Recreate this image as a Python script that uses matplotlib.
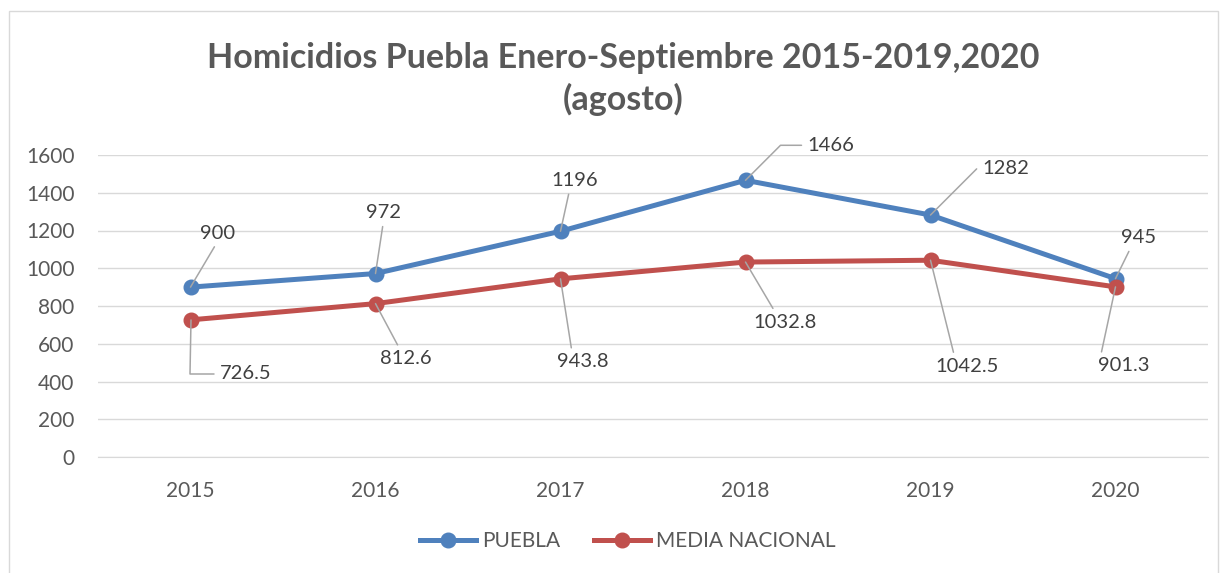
import matplotlib
matplotlib.use("Agg")
import matplotlib.pyplot as plt
from matplotlib.patches import Rectangle

plt.rcParams['font.family'] = ['Lato', 'DejaVu Sans']

years = ['2015', '2016', '2017', '2018', '2019', '2020']
puebla = [900, 972, 1196, 1466, 1282, 945]
media = [726.5, 812.6, 943.8, 1032.8, 1042.5, 901.3]
puebla_lbl = ['900', '972', '1196', '1466', '1282', '945']
media_lbl = ['726.5', '812.6', '943.8', '1032.8', '1042.5', '901.3']

# label offsets in pixels (dx, dy), anchor on text for leader, connection style
puebla_off = [(27, 54), (8, 61), (14, 51), (85, 35), (75, 47), (23, 41)]
puebla_rel = [(0.5, 0), (0.5, 0), (0.4, 0), (0, 0.5), (0, 0.5), (0.3, 0)]
puebla_con = ['arc3', 'arc3', 'arc3', 'angle,angleA=0,angleB=45,rad=0',
              'angle,angleA=0,angleB=45,rad=0', 'arc3']
media_off = [(55, -54), (30, -55), (22, -83), (40, -60), (37, -106), (8, -79)]
media_rel = [(0, 0.5), (0.4, 1), (0.3, 1), (0.35, 1), (0.3, 1), (0.05, 1)]
media_con = ['angle,angleA=0,angleB=90,rad=0', 'arc3', 'arc3', 'arc3', 'arc3', 'arc3']

blue = '#4F81BD'
red = '#C0504D'
grey_txt = '#595959'
grid_c = '#D9D9D9'

fig = plt.figure(figsize=(12.22, 5.73), dpi=100)
ax = fig.add_axes([98 / 1222, 1 - 457 / 573, 1110 / 1222, 302 / 573])

x = range(len(years))
ax.plot(x, puebla, color=blue, lw=3.6, marker='o', ms=10.5, label='PUEBLA', zorder=3)
ax.plot(x, media, color=red, lw=3.6, marker='o', ms=10.5, label='MEDIA NACIONAL', zorder=3)

def add_labels(vals, lbls, offs, rels, cons):
    for i, v in enumerate(vals):
        ax.annotate(lbls[i], (i, v), xytext=offs[i], textcoords='offset pixels',
                    ha='center', va='center', fontsize=14.5, color='#404040',
                    arrowprops=dict(arrowstyle='-', color='#A6A6A6', lw=1.1,
                                    relpos=rels[i], connectionstyle=cons[i],
                                    shrinkA=2, shrinkB=0),
                    zorder=4)

add_labels(puebla, puebla_lbl, puebla_off, puebla_rel, puebla_con)
add_labels(media, media_lbl, media_off, media_rel, media_con)

ax.set_xlim(-0.5, 5.5)
ax.set_ylim(0, 1600)
ax.set_yticks(range(0, 1601, 200))
ax.set_xticks(list(x))
ax.set_xticklabels(years)
ax.grid(axis='y', color=grid_c, lw=1)
ax.set_axisbelow(True)
for s in ['top', 'right', 'left']:
    ax.spines[s].set_visible(False)
ax.spines['bottom'].set_color(grid_c)
ax.tick_params(axis='both', length=0, labelsize=15, colors=grey_txt)
ax.tick_params(axis='y', pad=17)
ax.tick_params(axis='x', pad=17)

fig.text(0.51, 1 - 79 / 573, 'Homicidios Puebla Enero-Septiembre 2015-2019,2020\n(agosto)',
         ha='center', va='center', fontsize=24.5, fontweight='bold', color=grey_txt,
         linespacing=1.3)

leg = fig.legend(loc='center', bbox_to_anchor=(628 / 1222, 1 - 541 / 573), ncol=2,
                 frameon=False, fontsize=15, handlelength=2.7, columnspacing=1.6,
                 handletextpad=0.3)
for t in leg.get_texts():
    t.set_color(grey_txt)

fig.patches.append(Rectangle((9 / 1222, -0.01), 1209 / 1222, 1 - 11 / 573 + 0.01,
                             transform=fig.transFigure, fill=False,
                             edgecolor=grid_c, lw=1))

fig.savefig('out.png', dpi=100)
